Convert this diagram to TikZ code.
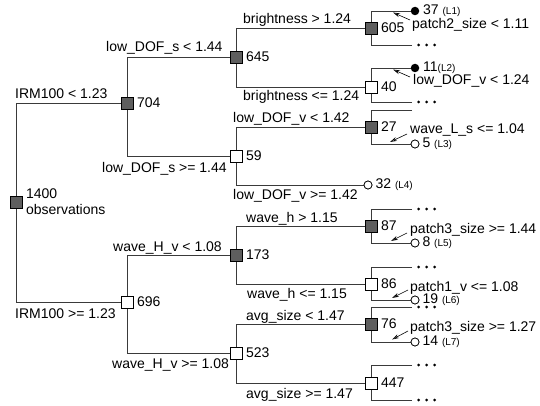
\documentclass[tikz,border=0pt]{standalone}
\usepackage{fontspec}
\setmainfont{Liberation Sans}
\usetikzlibrary{arrows.meta}
\definecolor{boxdark}{HTML}{5E5E5E}
\definecolor{linec}{HTML}{3A3A3A}
\newcommand\threedots[1]{\foreach \dx in {6.5,14.5,22.5} \fill ([xshift=\dx pt]#1) circle[radius=1.5pt];}
\begin{document}
\begin{tikzpicture}[x=1pt,y=-1pt,
  font=\fontsize{14}{16}\selectfont,
  split/.style={draw=black, line width=0.7pt, minimum size=12pt, inner sep=0pt, fill=boxdark},
  splitw/.style={split, fill=white},
  edge/.style={draw=linec, line width=0.8pt},
  num/.style={anchor=west, inner sep=0pt},
  lab/.style={anchor=base west, inner sep=0pt},
  leafdot/.style={circle, fill=black, minimum size=8.5pt, inner sep=0pt},
  leafo/.style={circle, draw=black, fill=white, line width=0.7pt, minimum size=8pt, inner sep=0pt},
  ptr/.style={-{Stealth[open,length=7pt,width=4pt]}, line width=0.6pt, draw=black}
]
\useasboundingbox (0,0) rectangle (540,406);

% ---------- split nodes ----------
\node[split]  (n1400) at (16,202) {};
\node[split]  (n704)  at (127,103) {};
\node[splitw] (n696)  at (127,302) {};
\node[split]  (n645)  at (236,57) {};
\node[splitw] (n59)   at (236,156) {};
\node[split]  (n173)  at (236,255) {};
\node[splitw] (n523)  at (236,353) {};
\node[split]  (n605)  at (371,28) {};
\node[splitw] (n40)   at (371,87) {};
\node[split]  (n27)   at (371,127) {};
\node[split]  (n87)   at (371,226) {};
\node[splitw] (n86)   at (371,284) {};
\node[split]  (n76)   at (371,324) {};
\node[splitw] (n447)  at (371,383) {};

% ---------- leaves ----------
\node[leafdot] (n37) at (415,11) {};
\node[leafdot] (n11) at (415,68) {};
\node[leafo]   (n5)  at (415,144) {};
\node[leafo]   (n32) at (368,185) {};
\node[leafo]   (n8)  at (415,243) {};
\node[leafo]   (n19) at (415,300) {};
\node[leafo]   (n14) at (415,342) {};

% free ends of truncated branches
\coordinate (d605)  at (412,45);
\coordinate (d40)   at (412,102);
\coordinate (t27)   at (412,110);
\coordinate (d87)   at (412,209);
\coordinate (d86)   at (412,267);
\coordinate (d76)   at (412,307);
\coordinate (d447a) at (412,365);
\coordinate (d447b) at (412,400);

% ---------- connectors ----------
\draw[edge] (n704.west) -| (n1400.north);
\draw[edge] (n696.west) -| (n1400.south);
\draw[edge] (n645.west) -| (n704.north);
\draw[edge] (n59.west)  -| (n704.south);
\draw[edge] (n173.west) -| (n696.north);
\draw[edge] (n523.west) -| (n696.south);
\draw[edge] (n605.west) -| (n645.north);
\draw[edge] (n40.west)  -| (n645.south);
\draw[edge] (n27.west)  -| (n59.north);
\draw[edge] (n32.west)  -| (n59.south);
\draw[edge] (n87.west)  -| (n173.north);
\draw[edge] (n86.west)  -| (n173.south);
\draw[edge] (n76.west)  -| (n523.north);
\draw[edge] (n447.west) -| (n523.south);
\draw[edge] (n37.west)  -| (n605.north);
\draw[edge] (d605)      -| (n605.south);
\draw[edge] (n11.west)  -| (n40.north);
\draw[edge] (d40)       -| (n40.south);
\draw[edge] (t27)       -| (n27.north);
\draw[edge] (n5.west)   -| (n27.south);
\draw[edge] (d87)       -| (n87.north);
\draw[edge] (n8.west)   -| (n87.south);
\draw[edge] (d86)       -| (n86.north);
\draw[edge] (n19.west)  -| (n86.south);
\draw[edge] (d76)       -| (n76.north);
\draw[edge] (n14.west)  -| (n76.south);
\draw[edge] (d447a)     -| (n447.north);
\draw[edge] (d447b)     -| (n447.south);

% redraw boxes and leaves on top
\foreach \n in {n1400,n704,n645,n173,n605,n27,n87,n76}
  \node[split] at (\n) {};
\foreach \n in {n696,n59,n523,n40,n86,n447}
  \node[splitw] at (\n) {};
\foreach \n in {n5,n32,n8,n19,n14}
  \node[leafo] at (\n) {};

% dots for truncated branches
\threedots{d605}
\threedots{d40}
\threedots{d87}
\threedots{d86}
\threedots{d76}
\threedots{d447a}
\threedots{d447b}

% ---------- node counts ----------
\node[num, align=left] (t1400) at ([xshift=3.5pt]n1400.east) {1400\\observations};
\node[num] (t704) at ([xshift=3.5pt]n704.east) {704};
\node[num] (t696) at ([xshift=3.5pt]n696.east) {696};
\node[num] (t645) at ([xshift=3.5pt]n645.east) {645};
\node[num] (t59)  at ([xshift=3.5pt]n59.east) {59};
\node[num] (t173) at ([xshift=3.5pt]n173.east) {173};
\node[num] (t523) at ([xshift=3.5pt]n523.east) {523};
\node[num] (t605) at ([xshift=3.5pt]n605.east) {605};
\node[num] (t40)  at ([xshift=3.5pt]n40.east) {40};
\node[num] (t27)  at ([xshift=3.5pt]n27.east) {27};
\node[num] (t87)  at ([xshift=3.5pt]n87.east) {87};
\node[num] (t86)  at ([xshift=3.5pt]n86.east) {86};
\node[num] (t76)  at ([xshift=3.5pt]n76.east) {76};
\node[num] (t447) at ([xshift=3.5pt]n447.east) {447};

% leaf counts
\node[num] (t37) at ([xshift=3.5pt]n37.east) {37 {\fontsize{10}{12}\selectfont(L1)}};
\node[num] (t11) at ([xshift=3.5pt]n11.east) {11{\fontsize{10}{12}\selectfont(L2)}};
\node[num] (t5)  at ([xshift=3pt]n5.east)  {5 {\fontsize{10}{12}\selectfont(L3)}};
\node[num] (t32) at ([xshift=3pt]n32.east) {32 {\fontsize{10}{12}\selectfont(L4)}};
\node[num] (t8)  at ([xshift=3pt]n8.east)  {8 {\fontsize{10}{12}\selectfont(L5)}};
\node[num] (t19) at ([xshift=3pt]n19.east) {19 {\fontsize{10}{12}\selectfont(L6)}};
\node[num] (t14) at ([xshift=3pt]n14.east) {14 {\fontsize{10}{12}\selectfont(L7)}};

% ---------- edge labels ----------
\node[lab] (l1) at (15,99)   {IRM100 < 1.23};
\node[lab] (l2) at (15,318)  {IRM100 >= 1.23};
\node[lab] (l3) at (106,52)  {low\_DOF\_s < 1.44};
\node[lab] (l4) at (102,172) {low\_DOF\_s >= 1.44};
\node[lab] (l5) at (113,251) {wave\_H\_v < 1.08};
\node[lab] (l6) at (112,368) {wave\_H\_v >= 1.08};
\node[lab] (l7) at (243,24)  {brightness > 1.24};
\node[lab] (l8) at (243,101) {brightness <= 1.24};
\node[lab] (l9) at (233,123) {low\_DOF\_v < 1.42};
\node[lab] (l10) at (233,199) {low\_DOF\_v >= 1.42};
\node[lab] (l11) at (246,222) {wave\_h > 1.15};
\node[lab] (l12) at (247,298) {wave\_h <= 1.15};
\node[lab] (l13) at (246,320) {avg\_size < 1.47};
\node[lab] (l14) at (246,398) {avg\_size >= 1.47};

% level-4 split labels with pointers
\node[lab] (p1) at (412,29)  {patch2\_size < 1.11};
\node[lab] (p2) at (413,85)  {low\_DOF\_v < 1.24};
\node[lab] (p3) at (410,134) {wave\_L\_s <= 1.04};
\node[lab] (p4) at (410,233) {patch3\_size >= 1.44};
\node[lab] (p5) at (410,291) {patch1\_v <= 1.08};
\node[lab] (p6) at (410,331) {patch3\_size >= 1.27};

\coordinate (a1s) at (410,20);  \coordinate (a1e) at (393,12.5);
\coordinate (a2s) at (410,77);  \coordinate (a2e) at (393,69.5);
\coordinate (a3s) at (407,134); \coordinate (a3e) at (390,142);
\coordinate (a4s) at (407,233); \coordinate (a4e) at (391,241);
\coordinate (a5s) at (408,290); \coordinate (a5e) at (392,298);
\coordinate (a6s) at (408,331); \coordinate (a6e) at (392,339.5);
\foreach \i in {1,...,6} \draw[ptr] (a\i s) -- (a\i e);
\end{tikzpicture}
\end{document}
